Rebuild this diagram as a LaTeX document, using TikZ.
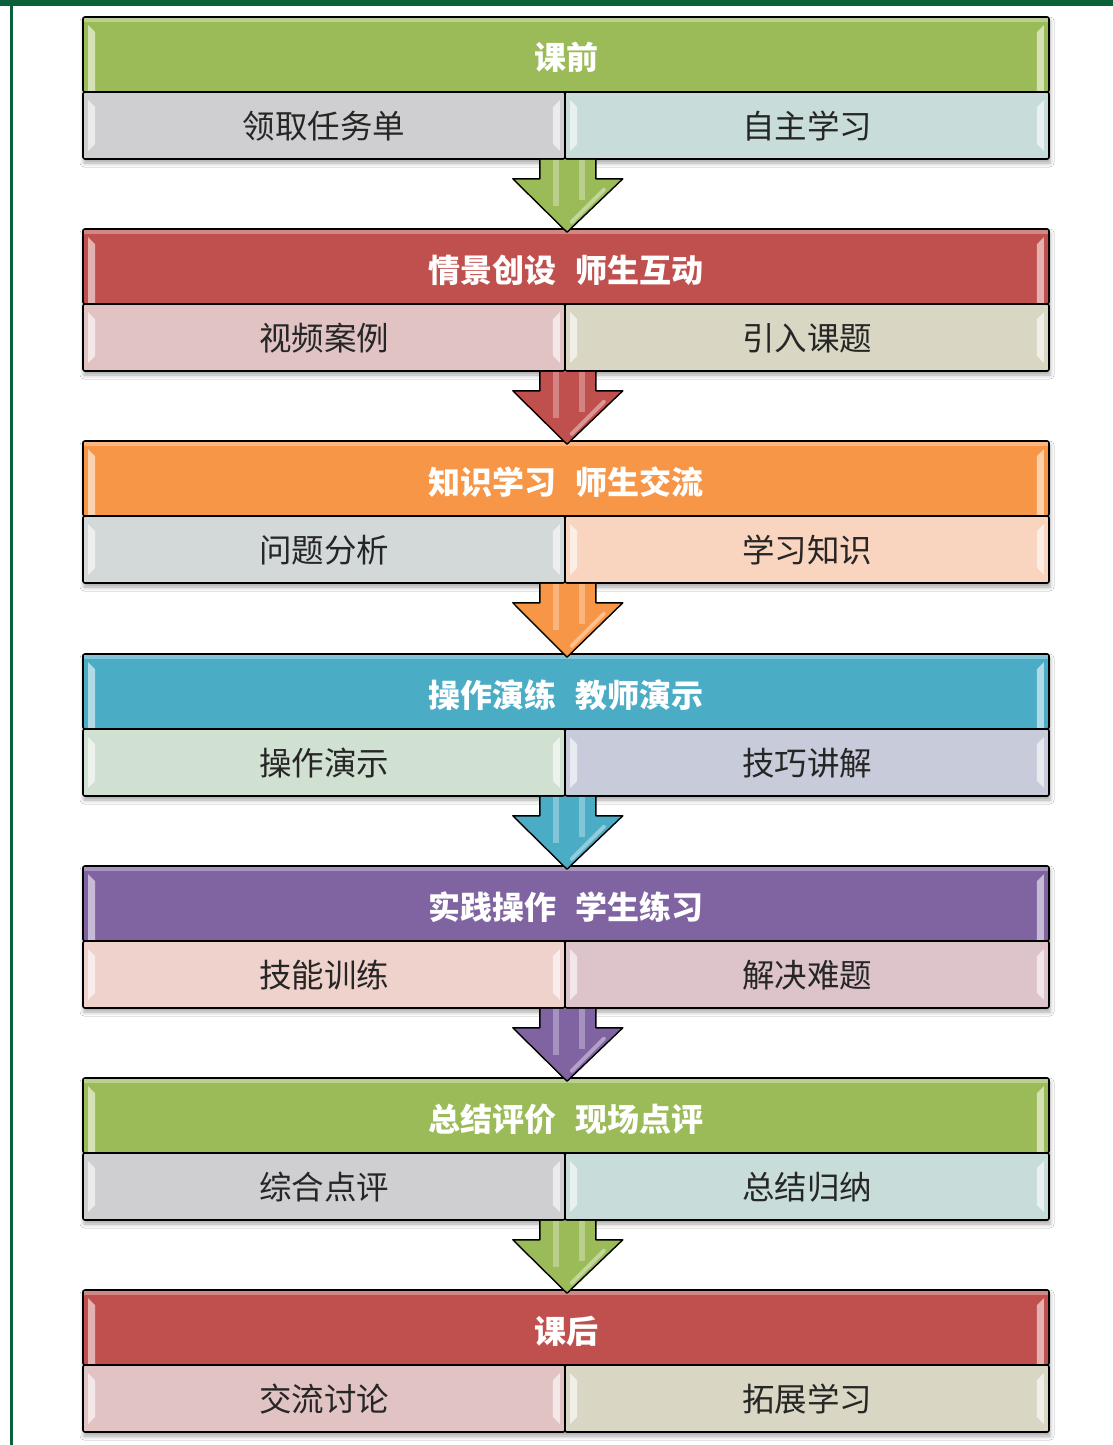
\documentclass[tikz,border=0pt]{standalone}
\usepackage{fontspec}
\newfontfamily\cjk{Noto Sans CJK SC}
\usetikzlibrary{calc,shadows.blur}
\definecolor{frameG}{HTML}{0B6139}
\definecolor{hG}{HTML}{9BBB59}
\definecolor{hR}{HTML}{C0504D}
\definecolor{hO}{HTML}{F79646}
\definecolor{hB}{HTML}{4BACC6}
\definecolor{hP}{HTML}{8064A2}
\definecolor{sGl}{HTML}{CFCFD1}
\definecolor{sGr}{HTML}{C8DDDA}
\definecolor{sRl}{HTML}{E1C3C3}
\definecolor{sRr}{HTML}{D9D7C3}
\definecolor{sOl}{HTML}{D3D9D9}
\definecolor{sOr}{HTML}{F9D4BE}
\definecolor{sBl}{HTML}{D0E0D1}
\definecolor{sBr}{HTML}{C8CCDA}
\definecolor{sPl}{HTML}{EFD2CB}
\definecolor{sPr}{HTML}{DDC4CB}
\tikzset{
  hdrbox/.style={draw=black, line width=1.6pt, rounded corners=2pt, minimum width=966pt,
    minimum height=75pt, inner sep=0pt, text height=33pt, text depth=2pt,
    text=white, font=\cjk\bfseries\fontsize{32}{32}\selectfont},
  subbox/.style={draw=black, line width=1.6pt, rounded corners=2pt, minimum height=67pt,
    inner sep=0pt, text height=30pt, text depth=3.4pt,
    text=black!85, font=\cjk\fontsize{32.5}{32.5}\selectfont},
  bev/.style={fill=white, opacity=.6},
  arrline/.style={draw=black, line width=1.4pt, line join=round},
}
% #1 name, #2 node
\newcommand\bevL[2]{\fill[#2] ($(#1.north west)+(6,9)$) -- ($(#1.north west)+(13,16)$) -- ($(#1.south west)+(13,-16)$) -- ($(#1.south west)+(6,-9)$) -- cycle;}
\newcommand\bevR[2]{\fill[#2] ($(#1.north east)+(-6,9)$) -- ($(#1.north east)+(-13,16)$) -- ($(#1.south east)+(-13,-16)$) -- ($(#1.south east)+(-6,-9)$) -- cycle;}
\newcommand\bevHL[2]{\fill[#2] ($(#1.north west)+(6,9)$) -- ($(#1.north west)+(13,16)$) -- ($(#1.south west)+(13,-1)$) -- ($(#1.south west)+(6,-1)$) -- cycle;}
\newcommand\bevHR[2]{\fill[#2] ($(#1.north east)+(-6,9)$) -- ($(#1.north east)+(-13,16)$) -- ($(#1.south east)+(-13,-1)$) -- ($(#1.south east)+(-6,-1)$) -- cycle;}
% #1 id, #2 top, #3 hcolor, #4 left color, #5 right color, #6 htext, #7 ltext, #8 rtext
\newcommand\myblock[8]{%
  \fill[white, blur shadow={shadow xshift=1pt, shadow yshift=-4pt, shadow blur radius=4pt, shadow opacity=35}]
     (83,#2) rectangle (1049,#2+142);
  \node[hdrbox, fill=#3] (h#1) at (566,#2+37.5) {#6};
  \fill[#3!55!white, opacity=.7] ($(h#1.north west)+(2,1.5)$) rectangle ($(h#1.north east)+(-2,6)$);
  \bevHL{h#1}{#3!25!white, opacity=.75}
  \bevHR{h#1}{#3!25!white, opacity=.75}
  \node[subbox, fill=#4, minimum width=482pt] (l#1) at (324,#2+108.5) {#7};
  \node[subbox, fill=#5, minimum width=484pt] (r#1) at (807,#2+108.5) {#8};
  \bevL{l#1}{bev}\bevR{l#1}{bev}
  \bevL{r#1}{bev}\bevR{r#1}{bev}
}
% #1 from id, #2 to id, #3 colour
\newcommand\myarrow[3]{%
  \coordinate (a#1) at ($(l#1.south east)+(2,0)$);
  \coordinate (t#1) at ($(h#2.north)+(1,4)$);
  \fill[#3] ($(a#1)+(-28,0)$) -- ($(a#1)+(-28,19)$) -- ($(a#1)+(-55,19)$) -- (t#1)
     -- ($(a#1)+(55,19)$) -- ($(a#1)+(28,19)$) -- ($(a#1)+(28,0)$) -- cycle;
  \fill[white, opacity=.3] ($(a#1)+(-15,0)$) rectangle ($(a#1)+(-9,46)$);
  \fill[white, opacity=.3] ($(a#1)+(11,0)$) rectangle ($(a#1)+(17,40)$);
  \draw[white, opacity=.4, line width=4pt, line cap=round] ($(a#1)+(36,30)$) -- ($(a#1)+(4,62)$);
  \draw[arrline] ($(a#1)+(-28,0)$) -- ($(a#1)+(-28,19)$) -- ($(a#1)+(-55,19)$) -- (t#1)
     -- ($(a#1)+(55,19)$) -- ($(a#1)+(28,19)$) -- ($(a#1)+(28,0)$);
}
\begin{document}
\begin{tikzpicture}[x=1pt, y=-1pt]
\useasboundingbox (0,0) rectangle (1113,1445);
\fill[white] (0,0) rectangle (1113,1445);
\fill[frameG] (0,0) rectangle (1113,6);
\fill[frameG] (10,0) rectangle (12.5,1445);

\myblock{1}{17}{hG}{sGl}{sGr}{课前}{领取任务单}{自主学习}
\myblock{2}{229}{hR}{sRl}{sRr}{情景创设\hspace{0.6em}师生互动}{视频案例}{引入课题}
\myblock{3}{441}{hO}{sOl}{sOr}{知识学习\hspace{0.6em}师生交流}{问题分析}{学习知识}
\myblock{4}{654}{hB}{sBl}{sBr}{操作演练\hspace{0.6em}教师演示}{操作演示}{技巧讲解}
\myblock{5}{866}{hP}{sPl}{sPr}{实践操作\hspace{0.6em}学生练习}{技能训练}{解决难题}
\myblock{6}{1078}{hG}{sGl}{sGr}{总结评价\hspace{0.6em}现场点评}{综合点评}{总结归纳}
\myblock{7}{1290}{hR}{sRl}{sRr}{课后}{交流讨论}{拓展学习}

\myarrow{1}{2}{hG}
\myarrow{2}{3}{hR}
\myarrow{3}{4}{hO}
\myarrow{4}{5}{hB}
\myarrow{5}{6}{hP}
\myarrow{6}{7}{hG}
\end{tikzpicture}
\end{document}
